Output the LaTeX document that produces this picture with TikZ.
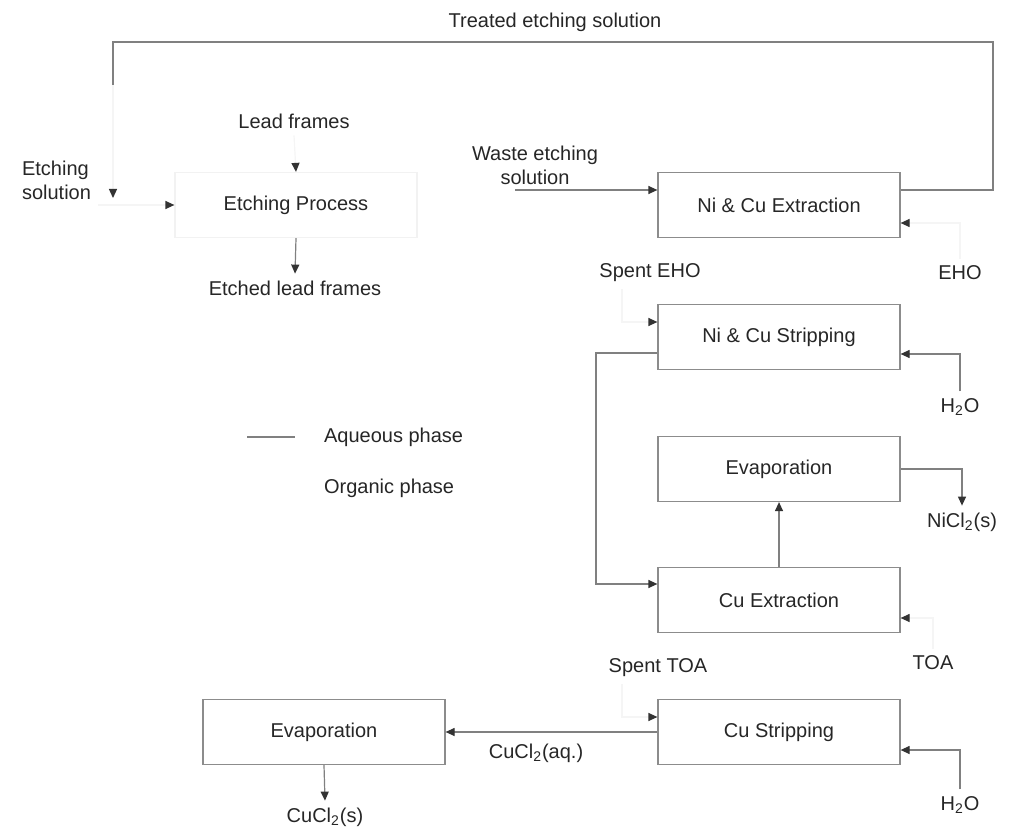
\documentclass[tikz,border=0pt]{standalone}
\usepackage{fontspec}
\setmainfont{Liberation Sans}
\usetikzlibrary{arrows.meta}

\tikzset{
    unit/.style={draw=black!45, line width=0.6pt, minimum width=121pt, minimum height=32.5pt, text=black!85},
    lbl/.style={text=black!85, align=center},
    pil/.style={draw=black!50, line width=0.6pt, -{Triangle[length=4.5pt,width=4pt,color=black!80]}},
    line/.style={draw=black!50, line width=0.6pt},
    % arrow whose line has faded in the scan
    faint/.style={draw=black!4, line width=0.6pt, -{Triangle[length=4.5pt,width=4pt,color=black!80]}},
}

\begin{document}
\begin{tikzpicture}[x=0.5pt, y=-0.5pt, font=\fontsize{10}{12}\selectfont]

\useasboundingbox (0,0) rectangle (1012,834);

% process units
  \node[unit, draw=black!5] (etch) at (296,205) {Etching Process};
  \node[unit] (nicuext)   at (779,205) {Ni \& Cu Extraction};
  \node[unit] (nicustrip) at (779,337) {Ni \& Cu Stripping};
  \node[unit] (evapni)    at (779,469) {Evaporation};
  \node[unit] (cuext)     at (779,600) {Cu Extraction};
  \node[unit] (custrip)   at (779,732) {Cu Stripping};
  \node[unit] (evapcu)    at (324,732) {Evaporation};

% streams
  \node[lbl] (treated) at (555,22) {Treated etching solution};
  \node[lbl] (lead) at (294,121) {Lead frames};
  \node[lbl, align=left, anchor=west] (etchsol) at (15,180) {Etching\\solution};
  \node[lbl] (etched) at (295,288) {Etched lead frames};
  \node[lbl] (waste) at (535,165) {Waste etching\\solution};
  \node[lbl] (spenteho) at (650,273) {Spent EHO};
  \node[lbl] (eho) at (960,273) {EHO};
  \node[lbl] (h2oa) at (960,407) {H\textsubscript{2}O};
  \node[lbl] (nicl) at (962,522) {NiCl\textsubscript{2}(s)};
  \node[lbl] (spenttoa) at (658,668) {Spent TOA};
  \node[lbl] (toa) at (933,663) {TOA};
  \node[lbl] (cuclaq) at (536,753) {CuCl\textsubscript{2}(aq.)};
  \node[lbl] (h2ob) at (960,805) {H\textsubscript{2}O};
  \node[lbl] (cucls) at (325,817) {CuCl\textsubscript{2}(s)};

% legend
  \node[lbl, anchor=west] (aqueous) at (317,437) {Aqueous phase};
  \node[lbl, anchor=west] (organic) at (317,488) {Organic phase};
  \coordinate (aqa) at (247,437);
  \coordinate (aqb) at (295,437);
  \draw[line] (aqa) -- (aqb);

% etching step
  \draw[faint] (lead.south) -- (etch.north);
  \draw[faint] (etchsol.east |- etch.west) -- (etch.west);
  \draw[pil] (etch.south) -- (etched.north);

% recycle of treated solution
  \coordinate (loopr) at (993,42);
  \coordinate (loopl) at (113,42);
  \coordinate (loopd) at (113,85);
  \coordinate (mix) at (113,198);
  \draw[line] ([yshift=7.5pt]nicuext.east) -| (loopr) -- (loopl) -- (loopd);
  \draw[faint] (loopd) -- (mix);

% Ni & Cu loop
  \coordinate (wastel) at (515,190);
  \draw[pil] (wastel) -- ([yshift=7.5pt]nicuext.west);
  \draw[faint] (eho.north) |- ([yshift=-9pt]nicuext.east);
  \draw[faint] ([xshift=-14pt]spenteho.south) |- ([yshift=7.5pt]nicustrip.west);
  \draw[pil] (h2oa.north) |- ([yshift=-8.5pt]nicustrip.east);
  \coordinate (lb) at (596,584);
  \draw[pil] ([yshift=-8pt]nicustrip.west) -| (lb) -- ([yshift=8pt]cuext.west);
  \draw[pil] (cuext.north) -- (evapni.south);
  \draw[pil] (evapni.east) -| (nicl.north);

% Cu loop
  \draw[faint] (toa.north) |- ([yshift=-9pt]cuext.east);
  \draw[faint] ([xshift=-18pt]spenttoa.south) |- ([yshift=7.5pt]custrip.west);
  \draw[pil] (h2ob.north) |- ([yshift=-9pt]custrip.east);
  \draw[pil] (custrip.west) -- (evapcu.east);
  \draw[pil] (evapcu.south) -- (cucls.north);

\end{tikzpicture}
\end{document}
